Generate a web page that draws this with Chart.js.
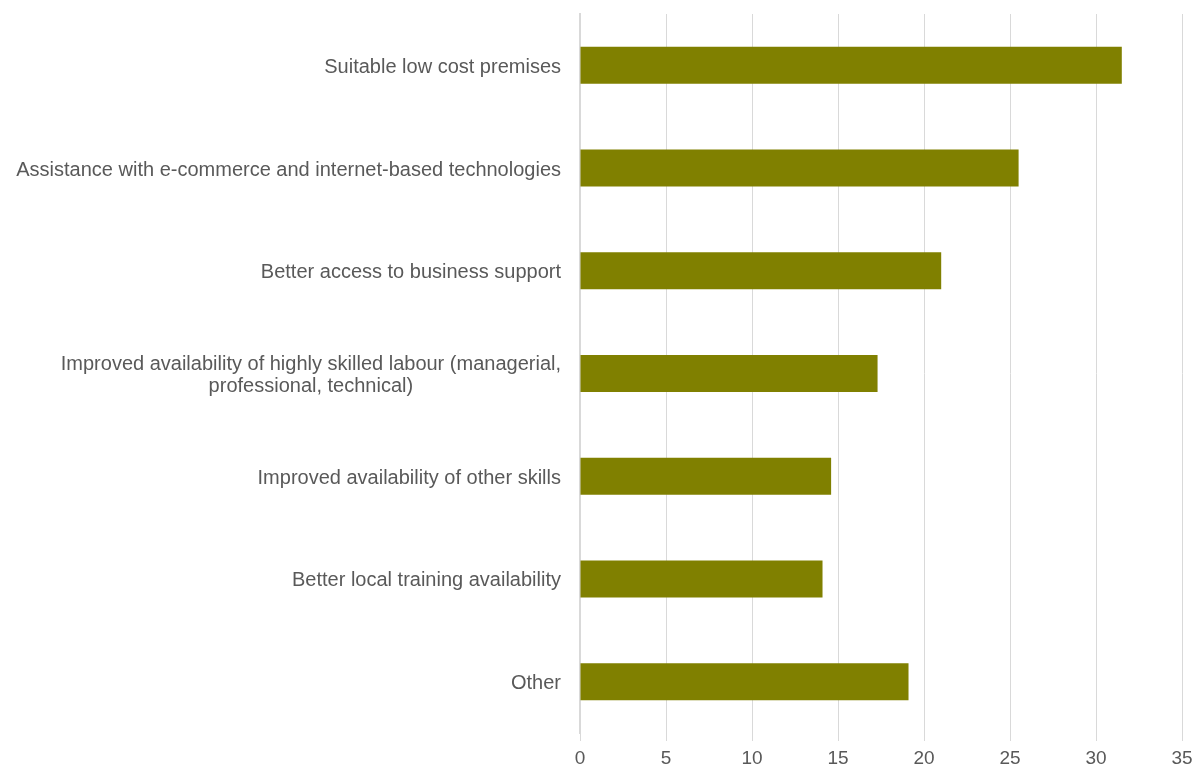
<!DOCTYPE html>
<html>
<head>
<meta charset="utf-8">
<script src="https://cdn.jsdelivr.net/npm/chart.js@4"></script>
<style>
  html, body { margin: 0; padding: 0; background: #fff; }
  #wrap { width: 1194px; height: 769px; position: relative; }
</style>
</head>
<body>
<div id="wrap"><canvas id="barChart"></canvas></div>
<script>
let categories = [
  "Suitable low cost premises",
  "Assistance with e-commerce and internet-based technologies",
  "Better access to business support",
  ["Improved availability of highly skilled labour (managerial,", "professional, technical)"],
  "Improved availability of other skills",
  "Better local training availability",
  "Other"
]
let values = [31.5, 25.5, 21.0, 17.3, 14.6, 14.1, 19.1]
let xTicks = [0, 5, 10, 15, 20, 25, 30, 35]

const textColor = "#595959"
const gridColor = "#d9d9d9"
const labelFont = "20px 'Liberation Sans', Arial, sans-serif"

// category labels: right-aligned blocks, wrapped lines centred inside the block
const categoryLabels = {
  id: "categoryLabels",
  afterDraw(chart) {
    const ctx = chart.ctx
    const y = chart.scales.y
    const right = chart.chartArea.left - 19
    const lineH = 22
    ctx.save()
    ctx.font = labelFont
    ctx.fillStyle = textColor
    ctx.textAlign = "center"
    ctx.textBaseline = "middle"
    categories.forEach((lab, i) => {
      const lines = Array.isArray(lab) ? lab : [lab]
      const w = Math.max(...lines.map(l => ctx.measureText(l).width))
      const cx = right - w / 2
      const cy = y.getPixelForTick(i) + 2
      const start = cy - (lines.length - 1) * lineH / 2
      lines.forEach((l, j) => ctx.fillText(l, cx, start + j * lineH))
    })
    ctx.restore()
  }
}

window.onload = function() {
  let ctx = document.getElementById("barChart").getContext("2d")
  window.myBar = new Chart(ctx, {
    type: "bar",
    data: {
      labels: categories,
      datasets: [{
        data: values,
        backgroundColor: "#808000",
        borderWidth: 0,
        barPercentage: 0.36,
        categoryPercentage: 1
      }]
    },
    options: {
      indexAxis: "y",
      responsive: true,
      maintainAspectRatio: false,
      animation: false,
      layout: { padding: { top: 14, right: 12, left: 0, bottom: 0 } },
      plugins: {
        legend: { display: false },
        tooltip: { enabled: false }
      },
      scales: {
        x: {
          min: 0,
          max: 35,
          afterBuildTicks: axis => { axis.ticks = xTicks.map(v => ({ value: v })) },
          afterFit: axis => {
            axis.height = 36
            axis.paddingLeft = 0
            axis.paddingRight = 0
          },
          grid: { color: gridColor, lineWidth: 1, tickLength: 8 },
          border: { display: false },
          ticks: {
            padding: 6,
            color: textColor,
            font: { family: "'Liberation Sans', Arial, sans-serif", size: 19 }
          }
        },
        y: {
          afterFit: axis => { axis.width = 580 },
          grid: { display: false },
          border: { display: true, color: gridColor, width: 2 },
          ticks: { display: false }
        }
      }
    },
    plugins: [categoryLabels]
  })
}
</script>
</body>
</html>
